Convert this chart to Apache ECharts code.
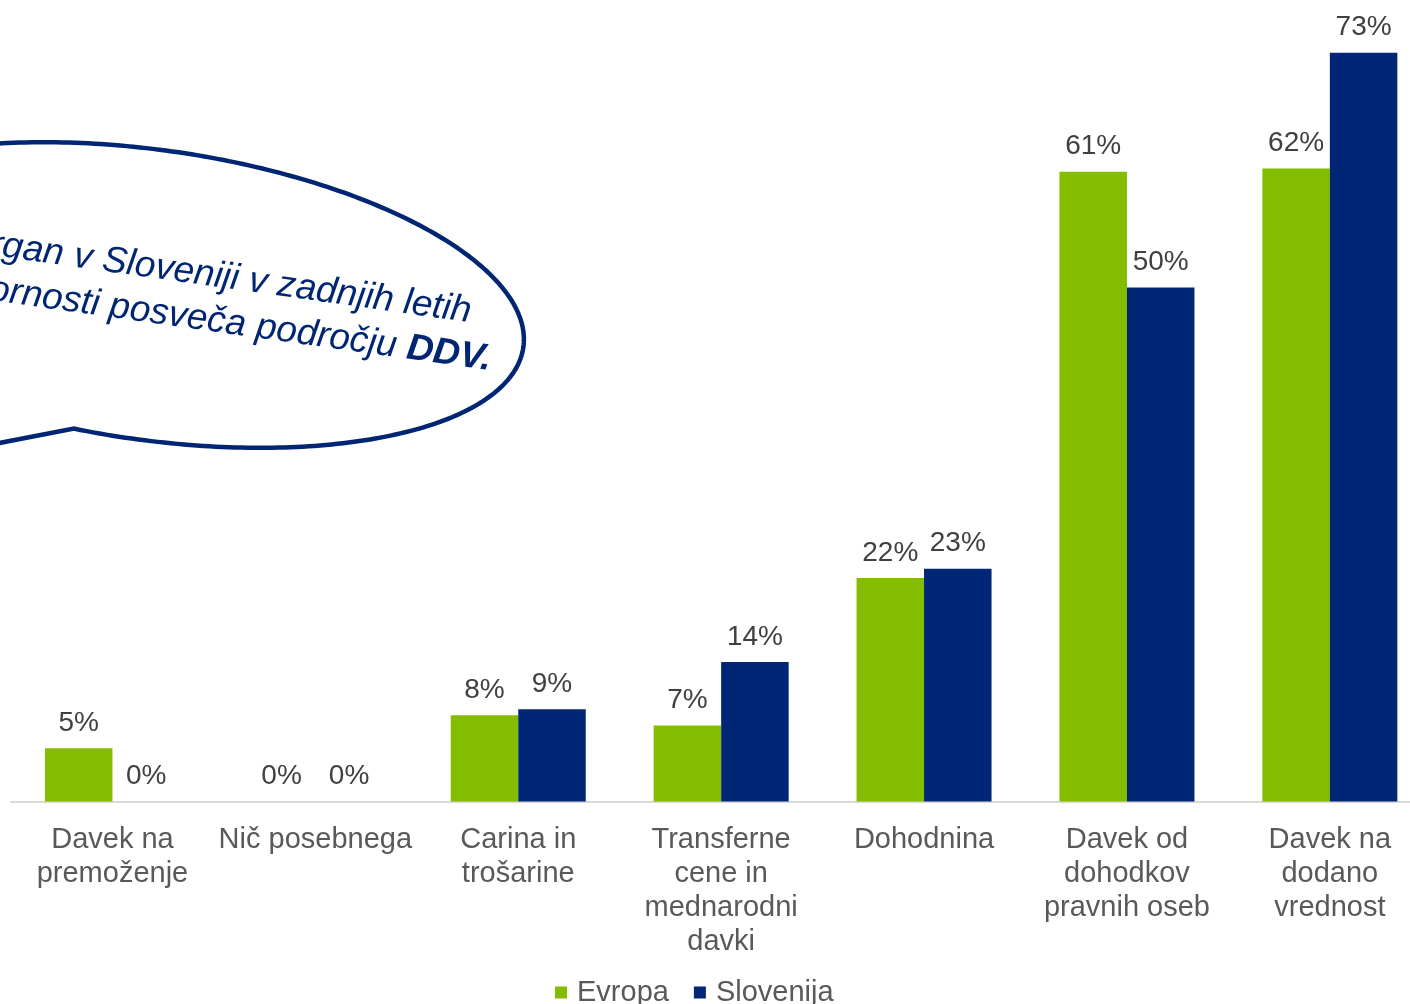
<!DOCTYPE html>
<html>
<head>
<meta charset="utf-8">
<script src="https://cdn.jsdelivr.net/npm/echarts@6/dist/echarts.min.js"></script>
<style>
  html, body { margin: 0; padding: 0; background: #fff; }
  #chart { width: 1410px; height: 1004px; }
</style>
</head>
<body>
<div id="chart"></div>
<script>
// podatki
const categories = [
  'Davek na\npremoženje',
  'Nič posebnega',
  'Carina in\ntrošarine',
  'Transferne\ncene in\nmednarodni\ndavki',
  'Dohodnina',
  'Davek od\ndohodkov\npravnih oseb',
  'Davek na\ndodano\nvrednost'
];
const evropa = [5.2, 0, 8.4, 7.4, 21.8, 61.4, 61.7];
const slovenija = [0, 0, 9.0, 13.6, 22.7, 50.1, 73.0];
const seriesNames = ['Evropa', 'Slovenija'];
const bubbleLine1 = 'organ v Sloveniji v zadnjih letih';
const bubbleLine2 = 'pozornosti posveča področju ';
const bubbleBold = 'DDV.';

const green = '#84bd00';
const blue = '#002776';
const fontFamily = '"Liberation Sans", Arial, sans-serif';

// oblaček: zasukana elipsa z repom (samo okras)
function bubblePoints() {
  const cx = 152, cy = 295, a = 375, b = 145, rot = 8 * Math.PI / 180;
  const c = Math.cos(rot), s = Math.sin(rot);
  const ell = [];
  for (let i = 0; i < 360; i++) {
    const t = i * Math.PI / 180;
    const ex = a * Math.cos(t), ey = b * Math.sin(t);
    ell.push([cx + ex * c - ey * s, cy + ex * s + ey * c]);
  }
  // vrh repa
  let k = 0, best = 1e9;
  for (let i = 0; i < 180; i++) {
    const d = Math.pow(ell[i][0] - 72, 2) + Math.pow(ell[i][1] - 429, 2);
    if (d < best) { best = d; k = i; }
  }
  const pts = [];
  for (let i = k + 30; i <= k + 360; i++) pts.push(ell[i % 360]);
  pts.push([-110, 464]);
  return pts;
}

const myChart = echarts.init(document.getElementById('chart'));
const rot = -8 * Math.PI / 180;

const labelStyle = {
  show: true,
  position: 'top',
  distance: 11,
  fontSize: 28,
  fontFamily: fontFamily,
  color: '#404040',
  formatter: function (p) { return Math.round(p.value) + '%'; }
};

myChart.setOption({
  animation: false,
  backgroundColor: '#fff',
  textStyle: { fontFamily: fontFamily },
  grid: {
    left: 11,
    right: -21.3,
    top: 52.7,
    bottom: 202.5,
    containLabel: false,
    outerBoundsMode: 'none'
  },
  legend: {
    data: seriesNames,
    left: 550,
    top: 973,
    itemWidth: 22,
    itemHeight: 12,
    itemGap: 25,
    icon: 'path://M0,0H10V10H0Z',
    selectedMode: false,
    textStyle: { fontSize: 29, color: '#595959', fontFamily: fontFamily }
  },
  xAxis: {
    type: 'category',
    data: categories,
    axisTick: { show: false },
    axisLine: { lineStyle: { color: '#d9d9d9', width: 2 } },
    axisLabel: {
      interval: 0,
      margin: 21,
      fontSize: 29,
      lineHeight: 34,
      color: '#595959',
      fontFamily: fontFamily
    }
  },
  yAxis: {
    type: 'value',
    min: 0,
    max: 73,
    show: false,
    splitLine: { show: false }
  },
  series: [
    {
      name: seriesNames[0],
      type: 'bar',
      data: evropa,
      barWidth: 67.5,
      barGap: '0%',
      itemStyle: { color: green },
      label: labelStyle
    },
    {
      name: seriesNames[1],
      type: 'bar',
      data: slovenija,
      barWidth: 67.5,
      barGap: '0%',
      itemStyle: { color: blue },
      label: labelStyle
    }
  ],
  graphic: [
    {
      type: 'polygon',
      shape: { points: bubblePoints() },
      style: { fill: '#fff', stroke: '#002673', lineWidth: 4.5, lineJoin: 'miter' },
      z: 10
    },
    {
      type: 'text',
      x: 471,
      y: 312,
      rotation: rot,
      z: 11,
      style: {
        text: bubbleLine1,
        fontSize: 37,
        fontStyle: 'italic',
        fontFamily: fontFamily,
        fill: '#002673',
        align: 'right',
        textAlign: 'right',
        verticalAlign: 'middle',
        textVerticalAlign: 'middle'
      }
    },
    {
      type: 'text',
      x: 491,
      y: 360,
      rotation: rot,
      z: 11,
      style: {
        text: bubbleLine2 + '{b|' + bubbleBold + '}',
        fontSize: 37,
        fontStyle: 'italic',
        fontFamily: fontFamily,
        fill: '#002673',
        align: 'right',
        textAlign: 'right',
        verticalAlign: 'middle',
        textVerticalAlign: 'middle',
        rich: {
          b: { fontSize: 37, fontStyle: 'italic', fontWeight: 'bold', fontFamily: fontFamily, fill: '#002673', color: '#002673' }
        }
      }
    }
  ]
});
</script>
</body>
</html>
